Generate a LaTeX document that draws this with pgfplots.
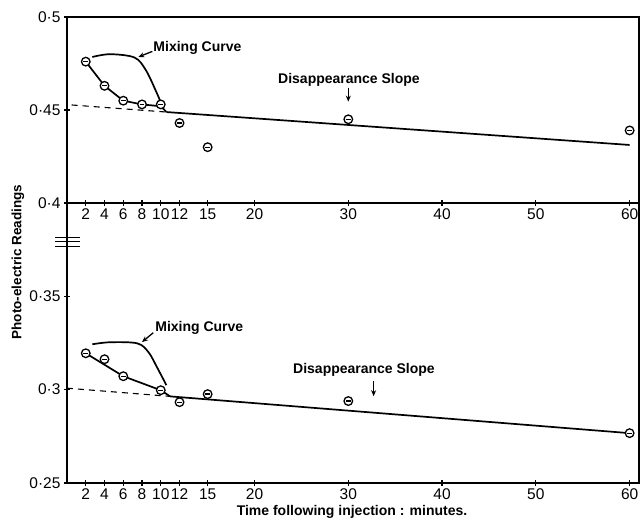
\documentclass[border=0pt]{standalone}
\usepackage{fontspec}
\setmainfont{Liberation Sans}
\usepackage{pgfplots}
\pgfplotsset{compat=1.18}
\usepackage{pgfplotstable}
\usetikzlibrary{arrows.meta}

\pgfdeclareplotmark{ominus}{%
  \pgfpathcircle{\pgfpointorigin}{\pgfplotmarksize}\pgfusepathqfillstroke
  \pgfpathmoveto{\pgfqpoint{-0.55\pgfplotmarksize}{0pt}}%
  \pgfpathlineto{\pgfqpoint{0.55\pgfplotmarksize}{0pt}}\pgfusepathqstroke}

\pgfplotstableread{
x y
2 0.476
4 0.463
6 0.455
8 0.453
10 0.453
12 0.443
15 0.430
30 0.445
60 0.439
}\toppts

\pgfplotstableread{
x y
2 0.3195
4 0.3163
6 0.3072
10 0.2997
12 0.2933
15 0.2976
30 0.2939
60 0.2767
}\botpts

\pgfplotsset{
  panel/.style={
    scale only axis, width=572pt,
    xmin=0, xmax=61,
    xtick={2,4,6,8,10,12,15,20,30,40,50,60},
    xticklabels={2,4,6,8,10,12,15,20,30,40,50,60},
    xtick pos=bottom, ytick pos=left,
    tick align=center, major tick length=6pt,
    tick style={line width=1.2pt, black},
    axis line style={line width=1.6pt},
    tick label style={font=\fontsize{15.5}{15.5}\selectfont},
    xticklabel style={yshift=1pt},
    clip=false,
  },
  curve/.style={black, line width=1.7pt},
  dashline/.style={black, line width=1.1pt, dash pattern=on 6pt off 5pt},
  pts/.style={only marks, mark=ominus, mark size=4.3pt, mark options={draw=black, fill=white, line width=1.3pt}},
}
\tikzset{
  ann/.style={font=\bfseries\fontsize{14}{14}\selectfont, anchor=west, inner sep=0pt},
  arr/.style={line width=1.3pt, -{Stealth[length=6pt,width=5pt]}},
}

\begin{document}
\begin{tikzpicture}
\useasboundingbox (0,0) rectangle (641pt,519pt);

% top panel
\begin{axis}[panel, at={(67pt,316pt)}, anchor=south west, height=186pt,
  ymin=0.4, ymax=0.5, ytick={0.4,0.45,0.5}, yticklabels={0·4,0·45,0·5}]
  \addplot[curve, smooth, tension=0.55] coordinates {(2.7,0.4785) (4.6,0.4800) (7.2,0.4782) (8.4,0.4715) (9.5,0.4600) (10.3,0.4505)};
  \addplot[curve] coordinates {(2,0.476) (4,0.463) (6,0.455) (8,0.453) (10,0.452) (10.6,0.449)};
  \addplot[dashline] coordinates {(0.5,0.4527) (10.6,0.4489)};
  \addplot[curve] coordinates {(10.6,0.4489) (60,0.4312)};
  \addplot[pts] table[x=x,y=y] {\toppts};
  \node[ann] at (axis cs:9.2,0.4833) {Mixing Curve};
  \draw[arr] (axis cs:9.1,0.4815) -- (axis cs:7.6,0.4785);
  \node[ann] at (axis cs:22.5,0.4661) {Disappearance Slope};
  \draw[arr] (axis cs:30,0.4620) -- (axis cs:30,0.4545);
\end{axis}

% bottom panel
\begin{axis}[panel, at={(67pt,36pt)}, anchor=south west, height=280pt,
  ymin=0.25, ymax=0.40, ytick={0.25,0.3,0.35}, yticklabels={0·25,0·3,0·35}]
  \addplot[curve, smooth, tension=0.55] coordinates {(2.7,0.3243) (4.6,0.3254) (7.5,0.3248) (8.7,0.3200) (9.6,0.3120) (10.6,0.3024)};
  \addplot[curve] coordinates {(2,0.3195) (6,0.3072) (10,0.2997) (11,0.2964)};
  \addplot[dashline] coordinates {(0,0.3008) (11,0.2964)};
  \addplot[curve] coordinates {(11,0.2964) (60,0.2767)};
  \addplot[pts] table[x=x,y=y] {\botpts};
  \node[ann] at (axis cs:9.4,0.3329) {Mixing Curve};
  \draw[arr] (axis cs:9.2,0.3305) -- (axis cs:8.0,0.3255);
  \node[ann] at (axis cs:24.1,0.3104) {Disappearance Slope};
  \draw[arr] (axis cs:32.7,0.3045) -- (axis cs:32.7,0.2965);
  \draw[line width=1pt] ([xshift=-12pt]rel axis cs:0,0.846) -- ([xshift=13pt]rel axis cs:0,0.846);
  \draw[line width=1pt] ([xshift=-12pt]rel axis cs:0,0.861) -- ([xshift=13pt]rel axis cs:0,0.861);
  \draw[line width=1pt] ([xshift=-12pt]rel axis cs:0,0.875) -- ([xshift=13pt]rel axis cs:0,0.875);
\end{axis}

\node[rotate=90, font=\bfseries\fontsize{13.5}{13.5}\selectfont] at (18pt,257pt) {Photo-electric Readings};
\node[font=\bfseries\fontsize{14}{14}\selectfont] at (352pt,7pt) {Time following injection : minutes.};
\end{tikzpicture}
\end{document}
